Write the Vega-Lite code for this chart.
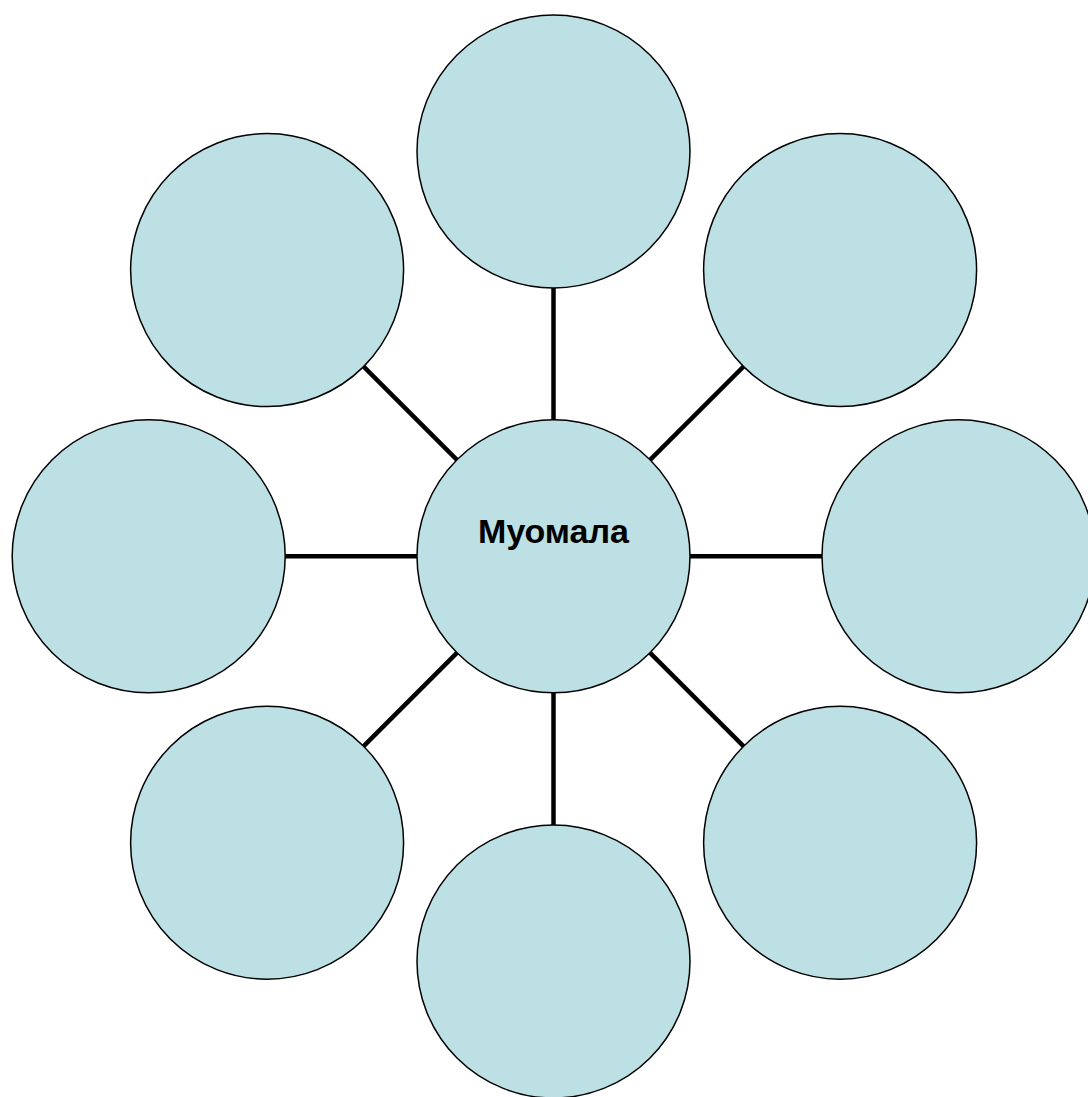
{
  "$schema": "https://vega.github.io/schema/vega-lite/v6.json",
  "width": 1088,
  "height": 1097,
  "autosize": {"type": "none"},
  "padding": 0,
  "background": "white",
  "config": {"view": {"stroke": null}},
  "data": {
    "values": [
      {"name": "Муомала", "kind": "center", "x": 553.5, "y": 556.3},
      {"name": "", "kind": "outer", "x": 553.5, "y": 151.5},
      {"name": "", "kind": "outer", "x": 840.1, "y": 270.1},
      {"name": "", "kind": "outer", "x": 958.5, "y": 556.3},
      {"name": "", "kind": "outer", "x": 840.1, "y": 842.7},
      {"name": "", "kind": "outer", "x": 553.5, "y": 961.5},
      {"name": "", "kind": "outer", "x": 267.1, "y": 842.7},
      {"name": "", "kind": "outer", "x": 148.7, "y": 556.3},
      {"name": "", "kind": "outer", "x": 267.1, "y": 270.1}
    ]
  },
  "layer": [
    {
      "transform": [{"filter": "datum.kind === 'outer'"}],
      "mark": {"type": "rule", "color": "black", "strokeWidth": 4.5},
      "encoding": {
        "x": {"field": "x", "type": "quantitative", "scale": {"domain": [0, 1088], "nice": false, "zero": false}, "axis": null},
        "y": {"field": "y", "type": "quantitative", "scale": {"domain": [0, 1097], "nice": false, "zero": false, "reverse": true}, "axis": null},
        "x2": {"datum": 553.5},
        "y2": {"datum": 556.3}
      }
    },
    {
      "mark": {"type": "point", "shape": "circle", "filled": true, "fill": "#bce0e3", "stroke": "black", "strokeWidth": 1.5, "opacity": 1, "fillOpacity": 1, "strokeOpacity": 1, "size": 74529},
      "encoding": {
        "x": {"field": "x", "type": "quantitative"},
        "y": {"field": "y", "type": "quantitative"}
      }
    },
    {
      "transform": [{"filter": "datum.kind === 'center'"}],
      "mark": {"type": "text", "font": "Liberation Sans, Arial", "fontWeight": "bold", "fontSize": 34, "color": "black", "align": "center", "baseline": "alphabetic", "dy": -13},
      "encoding": {
        "x": {"field": "x", "type": "quantitative"},
        "y": {"field": "y", "type": "quantitative"},
        "text": {"field": "name"}
      }
    }
  ]
}
